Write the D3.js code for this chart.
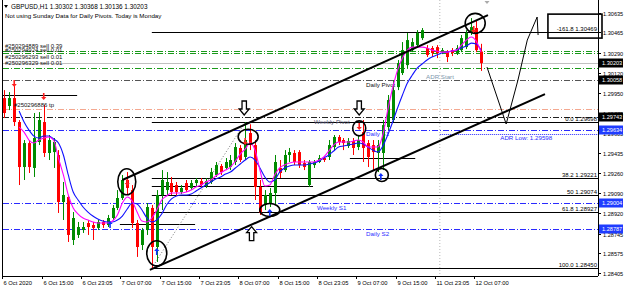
<!DOCTYPE html>
<html>
<head>
<meta charset="utf-8">
<script src="https://cdn.jsdelivr.net/npm/d3@7/dist/d3.min.js"></script>
<style>
  body { margin: 0; background: #fff; }
  svg text { font-family: "Liberation Sans", Arial, sans-serif; }
</style>
</head>
<body>
<div id="chart"></div>
<script>
// ---- GBPUSD H1 candles (bar index 0..97) ----
const opens = [1.29904,1.29836,1.29904,1.29699,1.29314,1.29519,1.29306,1.29528,1.29699,1.29434,
  1.29442,1.29417,1.29015,1.29058,1.28690,1.28733,1.28775,1.28835,1.28818,1.28793,
  1.28844,1.28818,1.28878,1.28964,1.29049,1.29203,1.29117,1.28835,1.28647,1.28775,
  1.28964,1.28630,1.29075,1.29117,1.29177,1.29160,1.29100,1.29177,1.29135,1.29177,
  1.29194,1.29152,1.29186,1.29246,1.29323,1.29306,1.29314,1.29357,1.29477,1.29400,
  1.29605,1.29502,1.29143,1.28989,1.29006,1.29092,1.29306,1.29288,1.29417,1.29434,
  1.29442,1.29348,1.29160,1.29331,1.29357,1.29391,1.29400,1.29485,1.29571,1.29545,
  1.29494,1.29536,1.29485,1.29613,1.29519,1.29502,1.29434,1.29434,1.29656,1.29716,
  1.29998,1.30118,1.30186,1.30314,1.30357,1.30417,1.30332,1.30332,1.30340,1.30297,
  1.30297,1.30314,1.30289,1.30314,1.30340,1.30460,1.30503,1.30302];
const highs = [1.29972,1.29955,1.30007,1.29716,1.29545,1.29545,1.29776,1.29784,1.29844,1.29588,
  1.29562,1.29459,1.29186,1.29075,1.28929,1.28844,1.28844,1.28861,1.28844,1.28861,
  1.28861,1.28904,1.28989,1.29117,1.29246,1.29271,1.29160,1.28861,1.28793,1.29006,
  1.28989,1.29117,1.29288,1.29271,1.29229,1.29186,1.29160,1.29203,1.29203,1.29220,
  1.29220,1.29220,1.29306,1.29357,1.29340,1.29391,1.29417,1.29519,1.29502,1.29698,
  1.29680,1.29545,1.29203,1.29117,1.29135,1.29417,1.29374,1.29459,1.29477,1.29459,
  1.29459,1.29374,1.29374,1.29374,1.29417,1.29408,1.29545,1.29588,1.29588,1.29562,
  1.29562,1.29562,1.29588,1.29716,1.29545,1.29545,1.29545,1.29716,1.29930,1.30058,
  1.30229,1.30383,1.30460,1.30417,1.30485,1.30503,1.30357,1.30349,1.30357,1.30332,
  1.30314,1.30332,1.30357,1.30443,1.30485,1.30588,1.30571,1.30368];
const lows = [1.29733,1.29801,1.29665,1.29160,1.29203,1.29263,1.29229,1.29502,1.29400,1.29374,
  1.29306,1.28921,1.28861,1.28673,1.28647,1.28707,1.28750,1.28733,1.28690,1.28775,
  1.28793,1.28801,1.28861,1.28946,1.29032,1.29075,1.28793,1.28545,1.28604,1.28733,
  1.28450,1.28502,1.28946,1.29075,1.29075,1.29066,1.29083,1.29100,1.29117,1.29152,
  1.29135,1.29135,1.29169,1.29229,1.29246,1.29288,1.29288,1.29331,1.29357,1.29374,
  1.29459,1.29032,1.28904,1.28946,1.28972,1.28989,1.29220,1.29271,1.29357,1.29331,
  1.29306,1.29288,1.29143,1.29306,1.29348,1.29357,1.29374,1.29459,1.29502,1.29459,
  1.29477,1.29417,1.29459,1.29357,1.29314,1.29288,1.29271,1.29288,1.29630,1.29699,
  1.29972,1.30101,1.30161,1.30297,1.30340,1.30400,1.30255,1.30255,1.30246,1.30280,
  1.30212,1.30263,1.30272,1.30297,1.30323,1.30443,1.30297,1.30136];
const closes = [1.29776,1.29904,1.29699,1.29314,1.29519,1.29314,1.29562,1.29716,1.29434,1.29545,
  1.29528,1.29015,1.29075,1.28733,1.28878,1.28801,1.28801,1.28801,1.28793,1.28844,
  1.28818,1.28878,1.28964,1.29049,1.29203,1.29135,1.28835,1.28630,1.28775,1.28972,
  1.28630,1.29075,1.29203,1.29186,1.29100,1.29100,1.29135,1.29117,1.29177,1.29203,
  1.29160,1.29194,1.29271,1.29331,1.29271,1.29357,1.29374,1.29485,1.29374,1.29545,
  1.29502,1.29143,1.28921,1.29075,1.29092,1.29357,1.29263,1.29417,1.29442,1.29357,
  1.29331,1.29314,1.29357,1.29357,1.29391,1.29374,1.29502,1.29571,1.29528,1.29519,
  1.29536,1.29477,1.29545,1.29477,1.29400,1.29442,1.29502,1.29673,1.29887,1.29972,
  1.30203,1.30314,1.30400,1.30383,1.30460,1.30485,1.30272,1.30289,1.30289,1.30314,
  1.30255,1.30289,1.30332,1.30417,1.30460,1.30511,1.30314,1.30203];

// moving averages, starting at bar 3
const maStart = 3;
const maBlue = [1.29793,1.29699,1.29630,1.29579,1.29562,1.29579,1.29579,1.29554,1.29519,1.29417,
  1.29246,1.29100,1.29032,1.28972,1.28929,1.28895,1.28870,1.28852,1.28844,1.28844,
  1.28861,1.28895,1.28955,1.29006,1.28998,1.28946,1.28878,1.28844,1.28861,1.28912,
  1.28989,1.29041,1.29066,1.29075,1.29075,1.29083,1.29109,1.29135,1.29160,1.29186,
  1.29212,1.29229,1.29254,1.29271,1.29306,1.29340,1.29374,1.29400,1.29374,1.29306,
  1.29229,1.29186,1.29203,1.29271,1.29306,1.29323,1.29331,1.29331,1.29331,1.29340,
  1.29348,1.29365,1.29391,1.29417,1.29451,1.29485,1.29494,1.29502,1.29511,1.29519,
  1.29511,1.29485,1.29459,1.29442,1.29494,1.29588,1.29699,1.29819,1.29930,1.30032,
  1.30101,1.30161,1.30195,1.30229,1.30255,1.30272,1.30289,1.30297,1.30306,1.30314,
  1.30332,1.30349,1.30374,1.30366,1.30314];
const maMagenta = [1.29656,1.29613,1.29545,1.29519,1.29545,1.29562,1.29571,1.29545,1.29391,1.29246,
  1.29075,1.28964,1.28912,1.28878,1.28861,1.28844,1.28835,1.28835,1.28835,1.28852,
  1.28904,1.29006,1.29058,1.29023,1.28929,1.28852,1.28844,1.28878,1.28946,1.29032,
  1.29066,1.29092,1.29092,1.29092,1.29100,1.29117,1.29143,1.29160,1.29186,1.29203,
  1.29237,1.29263,1.29288,1.29314,1.29365,1.29425,1.29468,1.29519,1.29459,1.29288,
  1.29152,1.29160,1.29246,1.29306,1.29331,1.29348,1.29357,1.29357,1.29357,1.29357,
  1.29357,1.29374,1.29400,1.29451,1.29502,1.29528,1.29528,1.29528,1.29536,1.29545,
  1.29528,1.29485,1.29485,1.29485,1.29588,1.29801,1.29990,1.30143,1.30246,1.30314,
  1.30340,1.30340,1.30340,1.30332,1.30314,1.30306,1.30297,1.30297,1.30306,1.30314,
  1.30357,1.30400,1.30426,1.30391,1.30297];

// ---- axis labels ----
const timeLabels = ["6 Oct 2020","6 Oct 15:00","6 Oct 23:05","7 Oct 07:00","7 Oct 15:00","7 Oct 23:05",
  "8 Oct 07:00","8 Oct 15:00","8 Oct 23:05","9 Oct 07:00","9 Oct 15:00","11 Oct 23:05","12 Oct 07:00"];
const timeLabelBars = [0,8,16,24,32,40,48,56,64,72,80,88,96];
const priceTicks = [1.30635,1.30465,1.30290,1.30120,1.29950,1.29775,1.29605,1.29435,1.29260,
  1.29090,1.28920,1.28745,1.28575,1.28405];
const markedPrices = [1.30203,1.30058,1.29743,1.29634,1.29004,1.28787];
const markedKinds = ["black","black","black","blue","blue","blue"];

// ---- horizontal levels (price, kind) ----
const levelPrices = [1.30309,1.30286,1.30158,1.30203,1.30058,1.29810,1.29743,1.29634,1.29004,1.28787];
const levelKinds  = ["order","order","order","bid","pivot","tp","wpivot","s","s","s"];
const adrLow = 1.29598;
const adrFromBar = 88.6;

// fibonacci retracement (levels as labelled on the chart)
const fibFromBar = 30, fibToBar = 49;
const fibLow = 1.28450, fibHigh = 1.29698;
const fibRatios = [-0.618, 0, 0.382, 0.5, 0.618, 1.0];
const fibNames = ["-161.8","0.0","38.2","50","61.8","100.0"];

// short manual horizontal lines: price, from bar, to bar
const hPrices = [1.29930,1.29389,1.29152,1.28827];
const hFrom = [-0.5,70.3,30,23.5];
const hTo = [14.8,83.6,62.8,38.8];

// channel lines (bar, price pairs)
const upperChannel = [[24,1.29203],[98.4,1.30614]];
const lowerChannel = [[29.6,1.28434],[110,1.29938]];
// hand drawn projection
const projection = [[98.2,1.30169],[102.1,1.29682],[104.5,1.30058],[106.4,1.30400],[108.4,1.30597],[108.6,1.30443]];
// rectangle around the -161.8 label
const boxBars = [110.6,121.6], boxPrices = [1.30622,1.30417];

// circles, big hollow arrows, signal arrows
const circleBars = [24.9,31,49.6,54,72.2,76.8,95.8];
const circlePrices = [1.29188,1.28576,1.29573,1.28946,1.29645,1.29246,1.30543];
const hollowBars = [48.8,72.2,50.3];
const hollowPrices = [1.29759,1.29759,1.28804];
const hollowDirs = ["down","down","up"];
const sellBars = [2,8,25,49,72.2,95.5];
const sellPrices = [1.30024,1.29913,1.29177,1.29528,1.29656,1.30486];
const buyBars = [21.5,31,54,76.6];
const buyPrices = [1.28827,1.28596,1.28929,1.29237];

// texts on the chart
const noteTexts = ["Daily Pivot","ADR Start","Weekly Pivot","Daily S1","Weekly S1","Daily S2","ADR Low: 1.29598"];
const noteBars = [73.6,85.8,63,73.6,63.6,73.6,100.9];
const notePrices = [1.29998,1.30067,1.29682,1.29580,1.28946,1.28724,1.29545];
const noteKinds = ["black","adr","gray","blue","blue","blue","blue"];
const orderTexts = ["#250294889 sell 0.39","#250294924 sell 0.01","#250296293 sell 0.01","#250296329 sell 0.01","#250296886 tp"];
const orderPrices = [1.30332,1.30297,1.30238,1.30186,1.29827];

const W = 625, H = 291;
const plot = { left: 3, right: 598, top: 0, bottom: 276 };

const svg = d3.select("#chart").append("svg").attr("width", W).attr("height", H);
svg.append("rect").attr("width", W).attr("height", H).attr("fill", "#fff");

const x = d3.scaleLinear().domain([0, 97]).range([4.4, 481.1]);
const y = d3.scaleLinear().domain([1.28405, 1.30635]).range([273.3, 12.6]);

svg.append("clipPath").attr("id", "plotclip")
  .append("rect").attr("x", plot.left).attr("y", plot.top)
  .attr("width", plot.right - plot.left).attr("height", plot.bottom - plot.top);

const g = svg.append("g").attr("clip-path", "url(#plotclip)");

// week separator
g.append("line")
  .attr("x1", x(88.6)).attr("x2", x(88.6)).attr("y1", 0).attr("y2", plot.bottom)
  .attr("stroke", "#b8b8b8").attr("stroke-dasharray", "1,2");

// horizontal levels
const levelStyle = {
  order:  { stroke: "#1a9a1a", dash: "6,2,1,2", w: 1 },
  bid:    { stroke: "#c0c0c0", dash: null, w: 1 },
  pivot:  { stroke: "#555", dash: "6,2,1,2", w: 1 },
  tp:     { stroke: "#f4a890", dash: "6,2,1,2", w: 1 },
  wpivot: { stroke: "#222", dash: "6,2,1,2", w: 1 },
  s:      { stroke: "#2a2aff", dash: "6,2,1,2", w: 1 }
};
levelPrices.forEach((p, i) => {
  const st = levelStyle[levelKinds[i]];
  g.append("line")
    .attr("x1", plot.left).attr("x2", plot.right)
    .attr("y1", Math.round(y(p)) + 0.5).attr("y2", Math.round(y(p)) + 0.5)
    .attr("stroke", st.stroke).attr("stroke-width", st.w)
    .attr("stroke-dasharray", st.dash);
});
g.append("line")
  .attr("x1", x(adrFromBar)).attr("x2", plot.right)
  .attr("y1", Math.round(y(adrLow)) + 0.5).attr("y2", Math.round(y(adrLow)) + 0.5)
  .attr("stroke", "#2a2aff").attr("stroke-dasharray", "1,1");

// manual short lines
hPrices.forEach((p, i) => {
  g.append("line")
    .attr("x1", x(hFrom[i])).attr("x2", x(hTo[i]))
    .attr("y1", Math.round(y(p)) + 0.5).attr("y2", Math.round(y(p)) + 0.5)
    .attr("stroke", "#000").attr("stroke-width", 1);
});

// fib levels
fibRatios.forEach((r, i) => {
  const p = fibHigh - (fibHigh - fibLow) * r;
  const yy = Math.round(y(p)) + 0.5;
  g.append("line")
    .attr("x1", x(fibFromBar)).attr("x2", plot.right)
    .attr("y1", yy).attr("y2", yy)
    .attr("stroke", "#000").attr("stroke-width", 1.2);
  g.append("text")
    .attr("x", plot.right - 1).attr("y", yy - 1.5)
    .attr("text-anchor", "end").attr("font-size", 6).attr("fill", "#000")
    .text(`${fibNames[i]} ${p.toFixed(5)}`);
});
g.append("line")
  .attr("x1", x(fibFromBar)).attr("y1", y(fibLow))
  .attr("x2", x(fibToBar)).attr("y2", y(fibHigh))
  .attr("stroke", "#777").attr("stroke-dasharray", "1,2");

// notes
const noteColor = { black: "#111", adr: "#7d98ac", gray: "#555570", blue: "#2a2aff" };
noteTexts.forEach((t, i) => {
  g.append("text")
    .attr("x", x(noteBars[i])).attr("y", y(notePrices[i]))
    .attr("font-size", 6.2).attr("fill", noteColor[noteKinds[i]])
    .text(t);
});

// candles
const bw = 3;
const candles = g.append("g");
closes.forEach((c, i) => {
  const o = opens[i];
  const col = c >= o ? "#008c00" : "#ff0000";
  const cx = Math.round(x(i)) + 0.5;
  candles.append("line")
    .attr("x1", cx).attr("x2", cx)
    .attr("y1", y(highs[i])).attr("y2", y(lows[i]))
    .attr("stroke", col).attr("stroke-width", 1);
  const top = y(Math.max(o, c)), bot = y(Math.min(o, c));
  candles.append("rect")
    .attr("x", cx - bw / 2).attr("y", top)
    .attr("width", bw).attr("height", Math.max(1, bot - top))
    .attr("fill", col);
});

// moving averages
const maLine = d3.line().x((d, i) => x(i + maStart)).y((d) => y(d)).curve(d3.curveMonotoneX);
g.append("path").attr("d", maLine(maBlue)).attr("fill", "none")
  .attr("stroke", "#1010ff").attr("stroke-width", 1.1);
g.append("path").attr("d", maLine(maMagenta)).attr("fill", "none")
  .attr("stroke", "#ff00ff").attr("stroke-width", 1.1);

// order texts
orderTexts.forEach((t, i) => {
  g.append("text")
    .attr("x", i === 4 ? 14 : 5).attr("y", y(orderPrices[i]))
    .attr("font-size", 6).attr("fill", "#111")
    .text(t);
});

// channel lines
[upperChannel, lowerChannel].forEach((ln) => {
  g.append("line")
    .attr("x1", x(ln[0][0])).attr("y1", y(ln[0][1]))
    .attr("x2", x(ln[1][0])).attr("y2", y(ln[1][1]))
    .attr("stroke", "#000").attr("stroke-width", 2);
});

// projection sketch
g.append("path")
  .attr("d", d3.line().x((d) => x(d[0])).y((d) => y(d[1])).curve(d3.curveLinear)(projection))
  .attr("fill", "none").attr("stroke", "#000").attr("stroke-width", 1);

// circles
const circleR = [[9, 13], [10, 12.5], [10, 7.5], [10, 6.5], [6.5, 7.5], [6.5, 6.5], [10, 10]];
circleBars.forEach((b, i) => {
  g.append("ellipse")
    .attr("cx", x(b)).attr("cy", y(circlePrices[i]))
    .attr("rx", circleR[i][0]).attr("ry", circleR[i][1])
    .attr("fill", "none").attr("stroke", "#000").attr("stroke-width", 1.6);
});

// signal arrows
const sigDown = "M-0.8,-7 L0.8,-7 L0.8,-3 L2.6,-3 L0,0 L-2.6,-3 L-0.8,-3 Z";
sellBars.forEach((b, i) => {
  g.append("path").attr("d", sigDown)
    .attr("transform", `translate(${x(b)},${y(sellPrices[i]) + 3})`)
    .attr("fill", "#ff2020");
});
buyBars.forEach((b, i) => {
  g.append("path").attr("d", sigDown)
    .attr("transform", `translate(${x(b)},${y(buyPrices[i]) - 3}) rotate(180)`)
    .attr("fill", "#1030ff");
});

// hollow arrows
const hollow = "M0,0 L-5,-6 L-2.2,-6 L-2.2,-14 L2.2,-14 L2.2,-6 L5,-6 Z";
hollowBars.forEach((b, i) => {
  const rot = hollowDirs[i] === "up" ? " rotate(180)" : "";
  g.append("path").attr("d", hollow)
    .attr("transform", `translate(${x(b)},${y(hollowPrices[i])})${rot}`)
    .attr("fill", "#fff").attr("stroke", "#000").attr("stroke-width", 1.3);
});

// ---- frame and axes (outside clip) ----
svg.append("line").attr("x1", plot.left - 0.5).attr("x2", plot.left - 0.5)
  .attr("y1", 0).attr("y2", plot.bottom).attr("stroke", "#000");
svg.append("line").attr("x1", plot.left).attr("x2", plot.right)
  .attr("y1", plot.bottom + 0.5).attr("y2", plot.bottom + 0.5).attr("stroke", "#000");
svg.append("line").attr("x1", plot.right + 0.5).attr("x2", plot.right + 0.5)
  .attr("y1", 0).attr("y2", plot.bottom).attr("stroke", "#000");

// box around -161.8 (drawn over the axis line)
svg.append("rect")
  .attr("x", x(boxBars[0])).attr("y", y(boxPrices[0]))
  .attr("width", x(boxBars[1]) - x(boxBars[0])).attr("height", y(boxPrices[1]) - y(boxPrices[0]))
  .attr("fill", "none").attr("stroke", "#000").attr("stroke-width", 1.6);

// price axis
const yAxis = svg.append("g");
priceTicks.forEach((p) => {
  const yy = Math.round(y(p)) + 0.5;
  yAxis.append("line").attr("x1", plot.right).attr("x2", plot.right + 3)
    .attr("y1", yy).attr("y2", yy).attr("stroke", "#000");
  yAxis.append("text").attr("x", plot.right + 5).attr("y", yy + 2)
    .attr("font-size", 5.6).attr("fill", "#000").text(p.toFixed(5));
});
markedPrices.forEach((p, i) => {
  const yy = Math.round(y(p));
  yAxis.append("rect").attr("x", plot.right + 1).attr("y", yy - 4.5)
    .attr("width", 24).attr("height", 9)
    .attr("fill", markedKinds[i] === "black" ? "#000" : "#1f3cff");
  yAxis.append("text").attr("x", plot.right + 4).attr("y", yy + 2)
    .attr("font-size", 5.6).attr("fill", "#fff").text(p.toFixed(5));
});

// time axis
timeLabelBars.forEach((b, i) => {
  const xx = Math.round(x(b)) - 1.5;
  svg.append("line").attr("x1", xx).attr("x2", xx)
    .attr("y1", plot.bottom).attr("y2", plot.bottom + 3).attr("stroke", "#000");
  svg.append("text").attr("x", xx + 1).attr("y", plot.bottom + 8.5)
    .attr("font-size", 5.8).attr("fill", "#000").text(timeLabels[i]);
});

// header
svg.append("path").attr("d", "M4,5 L8,5 L6,8 Z").attr("fill", "#000");
svg.append("text").attr("x", 11).attr("y", 9).attr("font-size", 6.4).attr("fill", "#000")
  .text("GBPUSD,H1  1.30302 1.30368 1.30136 1.30203");
svg.append("text").attr("x", 5).attr("y", 18).attr("font-size", 6.2).attr("fill", "#000")
  .text("Not using Sunday Data for Daily Pivots.  Today is Monday");
// chart shift marker
svg.append("path").attr("d", `M${x(98.2) - 2.5},1 L${x(98.2) + 2.5},1 L${x(98.2)},4 Z`).attr("fill", "#aaa");
</script>
</body>
</html>
